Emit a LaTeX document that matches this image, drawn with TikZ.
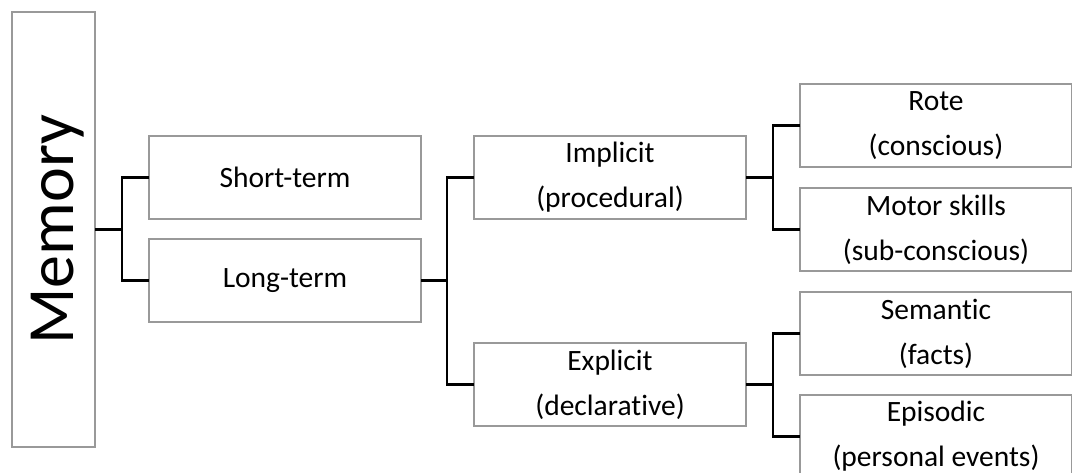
\documentclass[tikz,border=0pt]{standalone}
\usepackage{fontspec}
\setmainfont{Carlito}[Ligatures=CommonOff]
\usetikzlibrary{positioning}
\tikzstyle{box} = [rectangle, draw=black!40, line width=1.2pt, minimum width=272pt, minimum height=83pt, align=center, outer sep=0pt, font=\fontsize{29.5}{45}\selectfont]
\tikzstyle{membox} = [box, minimum width=435pt, minimum height=83pt, rotate=90, text height=51pt, text depth=12pt, font=\fontsize{66}{70}\selectfont]
\tikzstyle{link} = [line width=2.4pt, draw=black]
\begin{document}
\begin{tikzpicture}[x=1pt, y=-1pt, node distance=20pt]
\useasboundingbox (0,0) rectangle (1072,472);
% memory tree
\node (mem) [membox] at (53.5,229.5) {Memory};

\node (short) [box] at (285,177.5) {Short-term};
\node (long) [box, below=of short] {Long-term};

\node (imp) [box, right=53pt of short] {Implicit\\(procedural)};
\node (exp) [box, below=124pt of imp] {Explicit\\(declarative)};

\node (rote) [box, right=54pt of imp, yshift=52pt] {Rote\\(conscious)};
\node (motor) [box, below=21pt of rote] {Motor skills\\(sub-conscious)};
\node (sem) [box, below=21pt of motor] {Semantic\\(facts)};
\node (epi) [box, below=of sem] {Episodic\\(personal events)};

\draw [link] (mem.south) -- ++(27,0) coordinate (j1);
\draw [link] (short.west) -| (j1) |- (long.west);
\draw [link] (long.east) -- ++(26,0) coordinate (j2);
\draw [link] (imp.west) -| (j2) |- (exp.west);
\draw [link] (imp.east) -- ++(27,0) coordinate (j3);
\draw [link] (rote.west) -| (j3) |- (motor.west);
\draw [link] (exp.east) -- ++(27,0) coordinate (j4);
\draw [link] (sem.west) -| (j4) |- (epi.west);
\end{tikzpicture}
\end{document}
